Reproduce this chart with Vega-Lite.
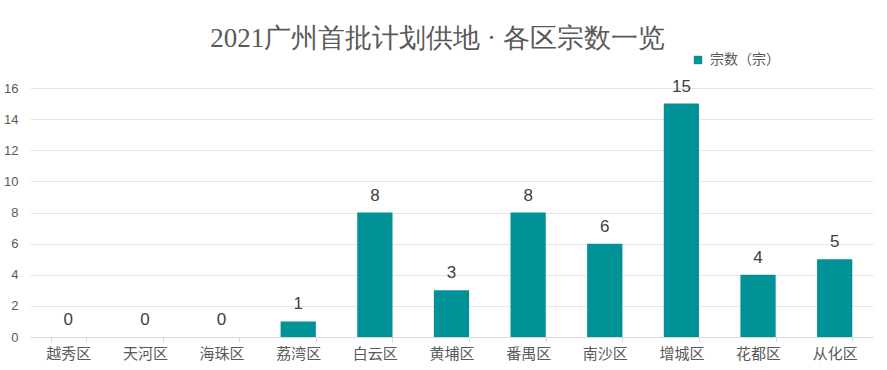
{
  "$schema": "https://vega.github.io/schema/vega-lite/v6.json",
  "autosize": "none",
  "width": 843,
  "height": 249,
  "padding": {"left": 30, "top": 88, "right": 14, "bottom": 33},
  "background": "white",
  "title": {
    "text": "2021广州首批计划供地 · 各区宗数一览",
    "anchor": "middle",
    "frame": "group",
    "font": "Liberation Serif",
    "fontSize": 27,
    "fontWeight": "normal",
    "color": "#595959",
    "offset": 0,
    "dx": -14
  },
  "data": {
    "values": [
      {"区": "越秀区", "宗数": 0},
      {"区": "天河区", "宗数": 0},
      {"区": "海珠区", "宗数": 0},
      {"区": "荔湾区", "宗数": 1},
      {"区": "白云区", "宗数": 8},
      {"区": "黄埔区", "宗数": 3},
      {"区": "番禺区", "宗数": 8},
      {"区": "南沙区", "宗数": 6},
      {"区": "增城区", "宗数": 15},
      {"区": "花都区", "宗数": 4},
      {"区": "从化区", "宗数": 5}
    ]
  },
  "encoding": {
    "x": {
      "field": "区",
      "type": "nominal",
      "sort": null,
      "title": null,
      "scale": {"paddingInner": 0.54, "paddingOuter": 0.27},
      "axis": {
        "labelAngle": 0,
        "labelFont": "Noto Sans CJK SC",
        "labelFontSize": 15,
        "labelColor": "#595959",
        "labelPadding": 4,
        "domainColor": "#d9d9d9",
        "tickColor": "#d9d9d9",
        "tickSize": 5,
        "tickBand": "extent",
        "grid": false
      }
    },
    "y": {
      "field": "宗数",
      "type": "quantitative",
      "title": null,
      "scale": {"domain": [0, 16]},
      "axis": {
        "values": [0, 2, 4, 6, 8, 10, 12, 14, 16],
        "labelFont": "Liberation Sans",
        "labelFontSize": 13,
        "labelColor": "#595959",
        "labelPadding": 12,
        "domain": false,
        "ticks": false,
        "gridColor": "#e6e6e6",
        "gridWidth": 1
      }
    }
  },
  "layer": [
    {
      "mark": {"type": "bar", "color": "#009296"},
      "encoding": {
        "color": {
          "datum": "宗数（宗）",
          "scale": {"range": ["#009296"]},
          "legend": {
            "title": null,
            "orient": "none",
            "legendX": 661,
            "legendY": -35,
            "symbolType": "square",
            "symbolSize": 70,
            "labelFont": "Noto Sans CJK SC",
            "labelFontSize": 14,
            "labelColor": "#595959",
            "labelOffset": 5
          }
        }
      }
    },
    {
      "mark": {
        "type": "text",
        "dy": -17,
        "font": "Liberation Sans",
        "fontSize": 17,
        "color": "#404040"
      },
      "encoding": {"text": {"field": "宗数", "type": "quantitative"}}
    }
  ],
  "config": {"view": {"stroke": null}}
}
